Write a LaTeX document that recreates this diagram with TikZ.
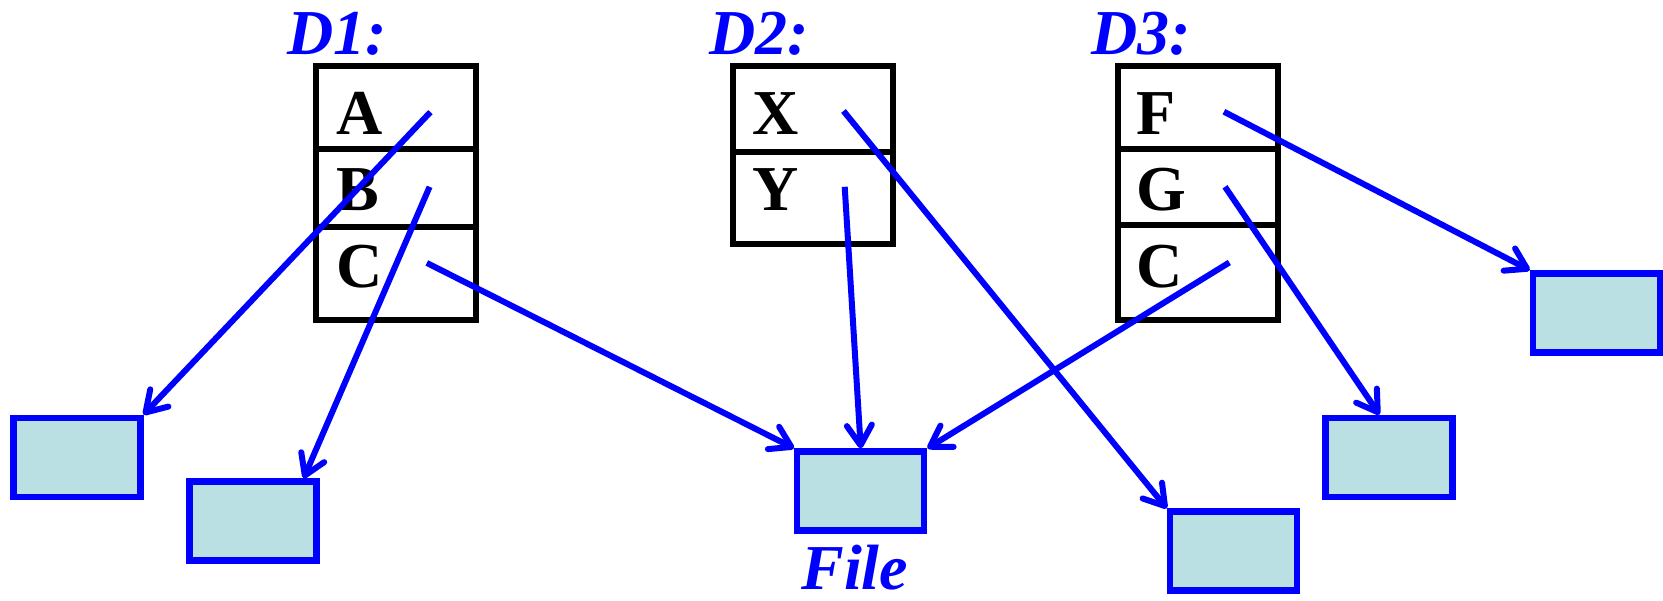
\documentclass[tikz,border=0pt]{standalone}
\usepackage{fontspec}
\setmainfont{Liberation Serif}
\usetikzlibrary{arrows.meta}
\definecolor{linkblue}{RGB}{0,0,255}
\definecolor{boxfill}{RGB}{187,224,227}
\tikzset{
  cell/.style={draw=black, line width=3pt, minimum width=80pt, inner sep=0pt, outer sep=0pt},
  letter/.style={anchor=base west, inner sep=0pt, font=\fontsize{32}{38}\selectfont\bfseries},
  title/.style={anchor=base west, inner sep=0pt, text=linkblue, font=\fontsize{32}{38}\selectfont\bfseries\itshape},
  target/.style={draw=linkblue, fill=boxfill, line width=3.2pt, minimum width=63.5pt, minimum height=39.5pt, inner sep=0pt},
  link/.style={draw=linkblue, line width=3pt, -{Straight Barb[length=10pt,width=12.5pt,round]}},
}
\begin{document}
\begin{tikzpicture}[x=0.5pt, y=-0.5pt]
  \useasboundingbox (0,0) rectangle (1663,600);

  % directory D1
  \node[title] (t1) at (287,54) {D1:};
  \node[cell, minimum height=41.85pt] (d1a) at (396.4,107.45) {};
  \node[cell, minimum height=39pt]    (d1b) at (396.4,188.3) {};
  \node[cell, minimum height=46.35pt] (d1c) at (396.4,273.65) {};
  \node[letter] (l1a) at (336,134) {A};
  \node[letter] (l1b) at (336,210.5) {B};
  \node[letter] (l1c) at (336,287) {C};

  % directory D2
  \node[title] (t2) at (709,54) {D2:};
  \node[cell, minimum height=43.15pt] (d2a) at (812.85,108.75) {};
  \node[cell, minimum height=45.8pt]  (d2b) at (812.85,197.7) {};
  \node[letter] (l2a) at (752,134) {X};
  \node[letter] (l2b) at (752,210.5) {Y};

  % directory D3
  \node[title] (t3) at (1091,54) {D3:};
  \node[cell, minimum height=41.85pt] (d3a) at (1197.5,107.45) {};
  \node[cell, minimum height=37.65pt] (d3b) at (1197.5,186.95) {};
  \node[cell, minimum height=47.7pt]  (d3c) at (1197.5,272.3) {};
  \node[letter] (l3a) at (1136,134) {F};
  \node[letter] (l3b) at (1136,210.5) {G};
  \node[letter] (l3c) at (1136,287) {C};

  % data blocks
  \node[target] (bA) at (76.8,457.35) {};
  \node[target] (bB) at (253,521) {};
  \node[target] (bfile) at (860.75,491) {};
  \node[target] (bX) at (1233.5,551.1) {};
  \node[target] (bG) at (1389,457.35) {};
  \node[target] (bF) at (1596.45,312.85) {};
  \node[title] (tfile) at (801,589) {File};

  % pointer origins inside the entries
  \coordinate (sA)  at (430.4,112.1);
  \coordinate (sB)  at (429.6,186.8);
  \coordinate (sC)  at (426.8,262.9);
  \coordinate (sX)  at (843.5,111);
  \coordinate (sY)  at (844.7,186.8);
  \coordinate (sF)  at (1223.9,111.7);
  \coordinate (sG)  at (1225,186.8);
  \coordinate (sC3) at (1229.3,262.5);

  % pointers
  \draw[link] (sA) -- (bA.north east);
  \draw[link] (sB) -- ([xshift=25.3pt]bB.north);
  \draw[link] (sC) -- (bfile.north west);
  \draw[link] (sX) -- (bX.north west);
  \draw[link] (sY) -- (bfile.north);
  \draw[link] (sF) -- (bF.north west);
  \draw[link] (sG) -- ([xshift=-4.8pt]bG.north);
  \draw[link] (sC3) -- (bfile.north east);
\end{tikzpicture}
\end{document}
